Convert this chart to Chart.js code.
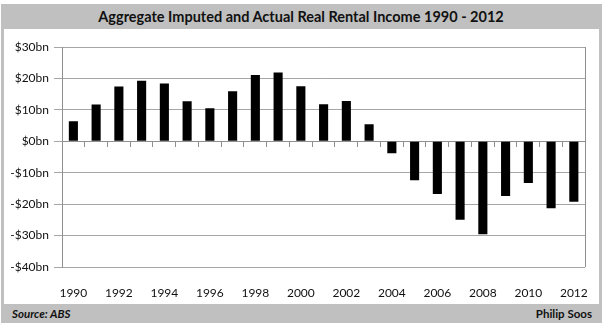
<!DOCTYPE html>
<html>
<head>
<meta charset="utf-8">
<script src="https://cdn.jsdelivr.net/npm/chart.js@4"></script>
<style>
  body { margin: 0; background: #fff; }
  #wrap { position: relative; width: 606px; height: 328px; font-family: Lato, "Open Sans", sans-serif; }
  #frame { position: absolute; left: 1px; top: 4px; width: 601px; height: 319px; background: #c0c0c0; }
  #panel { position: absolute; left: 4px; top: 29px; width: 595px; height: 275px; background: #fff; }
  #title { position: absolute; left: 0; top: 4px; width: 602px; height: 25px; line-height: 26px;
           text-align: center; font-weight: bold; font-size: 14.5px; color: #111; }
  .foot { position: absolute; top: 305px; height: 18px; line-height: 18px; font-weight: bold; font-size: 11.5px; color: #111; }
  #source { left: 12px; font-style: italic; }
  #author { right: 14px; }
  #chart { position: absolute; left: 4px; top: 29px; }
</style>
</head>
<body>
<div id="wrap">
  <div id="frame"></div>
  <div id="panel"></div>
  <div id="title">Aggregate Imputed and Actual Real Rental Income 1990 - 2012</div>
  <canvas id="chart" width="595" height="275"></canvas>
  <div class="foot" id="source">Source: ABS</div>
  <div class="foot" id="author">Philip Soos</div>
</div>
<script>
// Years on the category axis
const years = ['1990', '1991', '1992', '1993', '1994', '1995', '1996', '1997',
    '1998', '1999', '2000', '2001', '2002', '2003', '2004', '2005', '2006',
    '2007', '2008', '2009', '2010', '2011', '2012'];

// Imputed and actual real rental income, $bn
const rentalIncome = [6.4, 11.7, 17.4, 19.3, 18.4, 12.7, 10.5, 15.9,
    21.1, 21.9, 17.5, 11.8, 12.8, 5.4, -3.8, -12.4, -16.8,
    -25.0, -29.6, -17.4, -13.3, -21.3, -19.2];

// Value axis ticks
const yMin = -40;
const yMax = 30;
const yStep = 10;

const gridColor = '#a6a6a6';
const frameColor = '#909090';

const formatBn = function(v) {
    return (v < 0 ? '-' : '') + '$' + Math.abs(v) + 'bn';
};

// Right edge of the plot box
const plotFrame = {
    id: 'plotFrame',
    afterDraw: function(chart) {
        const a = chart.chartArea;
        const ctx = chart.ctx;
        ctx.save();
        ctx.strokeStyle = frameColor;
        ctx.lineWidth = 1;
        ctx.beginPath();
        ctx.moveTo(Math.round(a.right) + 0.5, a.top);
        ctx.lineTo(Math.round(a.right) + 0.5, a.bottom);
        ctx.stroke();
        ctx.restore();
    }
};

const font = { family: 'Lato, "Open Sans", sans-serif', size: 12 };

new Chart(document.getElementById('chart'), {
    type: 'bar',
    data: {
        labels: years,
        datasets: [{
            data: rentalIncome,
            backgroundColor: '#000',
            borderWidth: 0,
            barPercentage: 0.5,
            categoryPercentage: 0.8
        }]
    },
    options: {
        responsive: false,
        animation: false,
        layout: { padding: { top: 18, right: 11, left: 0, bottom: 0 } },
        plugins: {
            legend: { display: false },
            tooltip: { enabled: false }
        },
        scales: {
            x: {
                offset: true,
                grid: { display: false, offset: true },
                border: { display: false },
                ticks: {
                    autoSkip: false,
                    maxRotation: 0,
                    padding: 11,
                    color: '#111',
                    font: font,
                    callback: function(val, idx) {
                        return idx % 2 === 0 ? years[idx] : '';
                    }
                },
                afterFit: function(scale) { scale.height = 37; }
            },
            xZero: {
                type: 'category',
                position: { y: 0 },
                offset: true,
                grid: { offset: true, drawOnChartArea: false, tickLength: 5, color: frameColor },
                border: { display: true, color: frameColor },
                ticks: { display: false }
            },
            y: {
                min: yMin,
                max: yMax,
                ticks: {
                    stepSize: yStep,
                    padding: 5,
                    color: '#111',
                    font: font,
                    callback: formatBn
                },
                grid: { color: gridColor, tickLength: 8 },
                border: { color: frameColor },
                afterFit: function(scale) { scale.width = 58; }
            }
        }
    },
    plugins: [plotFrame]
});
</script>
</body>
</html>
